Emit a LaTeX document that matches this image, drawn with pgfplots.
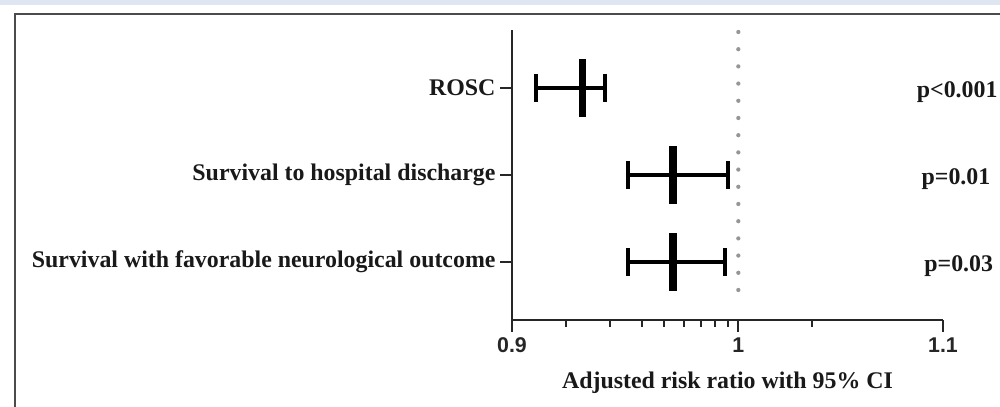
\documentclass[border=0pt]{standalone}
\usepackage{fontspec}
\setmainfont{Liberation Serif}
\setsansfont{Liberation Sans}
\usepackage{pgfplots}
\pgfplotsset{compat=1.18}
\definecolor{stripblue}{RGB}{221,230,241}
\definecolor{framegray}{RGB}{75,75,75}
\definecolor{dotgray}{RGB}{150,150,150}
\begin{document}
\begin{tikzpicture}
\useasboundingbox (0pt,0pt) rectangle (750pt,305.25pt);
\fill[white] (0pt,0pt) rectangle (750pt,305.25pt);
\fill[stripblue] (0pt,301.5pt) rectangle (750pt,305.25pt);
\draw[framegray, line width=1.5pt] (11.25pt,-8pt) -- (11.25pt,294.75pt) -- (760pt,294.75pt);
\begin{axis}[
  at={(384pt,65.25pt)}, anchor=south west,
  scale only axis, width=323.25pt, height=217.5pt,
  xmode=log, xmin=0.9, xmax=1.1,
  ymin=0.33, ymax=3.67,
  axis lines=left,
  axis line style={-, line width=1.5pt, black!85},
  clip=false,
  xtick={0.9,1,1.1}, xticklabels={0.9,1,1.1},
  minor xtick={0.923,0.942,0.956,0.966,0.975,0.983,0.989,0.995,1.035},
  ytick={1,2,3},
  yticklabels={Survival with favorable neurological outcome,Survival to hospital discharge,ROSC},
  tick align=outside,
  major tick length=9pt, minor tick length=5pt,
  every tick/.style={black!85, line width=1.5pt},
  /pgf/number format/assume math mode=true,
  yticklabel style={font=\fontsize{17.9}{20}\selectfont\bfseries, text=black!90},
  xticklabel style={font=\fontsize{16}{18}\selectfont\sffamily\bfseries, text=black!85, yshift=-1pt},
  xlabel={Adjusted risk ratio with 95\% CI},
  xlabel style={at={(axis description cs:0.5,-0.217)}, anchor=center, font=\fontsize{17.9}{20}\selectfont\bfseries, text=black!90},
]
% reference line at 1
\addplot[dotgray, line width=3.2pt, dash pattern=on 0pt off 12.9pt, line cap=round, forget plot] coordinates {(1,3.647) (1,0.48)};
% confidence intervals
\addplot[black, line width=2.6pt, mark=|, mark size=10.5pt, mark options={line width=3pt, solid}] coordinates {(0.91,3) (0.94,3)};
\addplot[black, line width=2.6pt, mark=|, mark size=10.5pt, mark options={line width=3pt, solid}] coordinates {(0.95,2) (0.995,2)};
\addplot[black, line width=2.6pt, mark=|, mark size=10.5pt, mark options={line width=3pt, solid}] coordinates {(0.95,1) (0.994,1)};
% point estimates
\addplot[black, only marks, mark=|, mark size=21.6pt, mark options={line width=5.5pt}] coordinates {(0.93,3) (0.97,2) (0.97,1)};
% p values
\node[anchor=base west, inner sep=0pt, yshift=-7pt, font=\fontsize{17.9}{20}\selectfont\bfseries, text=black!90] at (axis cs:1.0866,3) {p<0.001};
\node[anchor=base west, inner sep=0pt, yshift=-7pt, font=\fontsize{17.9}{20}\selectfont\bfseries, text=black!90] at (axis cs:1.089,2) {p=0.01};
\node[anchor=base west, inner sep=0pt, yshift=-7pt, font=\fontsize{17.9}{20}\selectfont\bfseries, text=black!90] at (axis cs:1.0904,1) {p=0.03};
\end{axis}
\end{tikzpicture}
\end{document}
